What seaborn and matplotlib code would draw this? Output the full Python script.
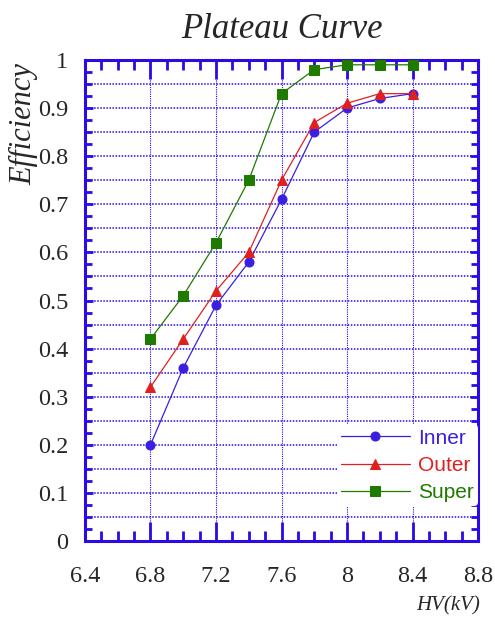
import matplotlib
matplotlib.use("Agg")
import matplotlib.pyplot as plt
import seaborn as sns
import numpy as np
from matplotlib.ticker import MultipleLocator

# ---- data ----
hv = [6.8, 7.0, 7.2, 7.4, 7.6, 7.8, 8.0, 8.2, 8.4]
inner = [0.20, 0.36, 0.49, 0.58, 0.71, 0.85, 0.90, 0.92, 0.93]
outer = [0.32, 0.42, 0.52, 0.60, 0.75, 0.87, 0.91, 0.93, 0.93]
super_ = [0.42, 0.51, 0.62, 0.75, 0.93, 0.98, 0.99, 0.99, 0.99]

series_names = ["Inner", "Outer", "Super"]
series_vals = [inner, outer, super_]
series_colors = ["#3a1fe0", "#e02020", "#1f7a00"]
series_markers = ["o", "^", "s"]

x_ticks = [6.4, 6.8, 7.2, 7.6, 8.0, 8.4, 8.8]
x_ticklabels = ["6.4", "6.8", "7.2", "7.6", "8", "8.4", "8.8"]
y_ticks = [0, 0.1, 0.2, 0.3, 0.4, 0.5, 0.6, 0.7, 0.8, 0.9, 1.0]
y_ticklabels = ["0", "0.1", "0.2", "0.3", "0.4", "0.5", "0.6", "0.7", "0.8", "0.9", "1"]

axis_blue = "#2a0ae6"

sns.set_style("white")
plt.rcParams["font.family"] = ["Liberation Serif", "DejaVu Serif"]

fig = plt.figure(figsize=(4.95, 6.21), dpi=100)
ax = fig.add_axes([0.1717, 0.1288, 0.7940, 0.7746])

for name, vals, col, mk in zip(series_names, series_vals, series_colors, series_markers):
    sns.lineplot(x=hv, y=vals, ax=ax, color=col, marker=mk, markersize=6.5,
                 markeredgecolor=col, linewidth=0.9, label=name, zorder=3)

ax.set_xlim(6.4, 8.8)
ax.set_ylim(0, 1)

# ticks
ax.set_xticks(x_ticks)
ax.set_xticklabels(x_ticklabels)
ax.set_yticks(y_ticks)
ax.set_yticklabels(y_ticklabels)
ax.xaxis.set_minor_locator(MultipleLocator(0.1))
ax.yaxis.set_minor_locator(MultipleLocator(0.025))

ax.tick_params(axis="x", which="major", direction="in", length=14, width=2,
               color=axis_blue, top=True, bottom=True, labelsize=17.5, pad=18)
ax.tick_params(axis="x", which="minor", direction="in", length=7, width=2,
               color=axis_blue, top=True, bottom=True)
ax.tick_params(axis="y", which="major", direction="in", length=6, width=2,
               color=axis_blue, left=True, right=True, labelsize=17.5, pad=12)
ax.tick_params(axis="y", which="minor", direction="in", length=5, width=2,
               color=axis_blue, left=True, right=True)

for sp in ax.spines.values():
    sp.set_color(axis_blue)
    sp.set_linewidth(2.2)

# dotted grid
for yv in np.arange(0.05, 0.99, 0.05):
    ax.axhline(yv, color=axis_blue, linestyle=(0, (1, 1)), linewidth=1.1, zorder=1)
for xv in x_ticks[1:-1]:
    ax.axvline(xv, color=axis_blue, linestyle=(0, (1, 1)), linewidth=0.8, zorder=1)

ax.set_title("Plateau Curve", fontsize=25, style="italic", pad=16)
ax.set_ylabel("Efficiency", fontsize=22, style="italic", loc="top")
ax.yaxis.set_label_coords(-0.118, 0.994)
ax.set_xlabel("HV(kV)", fontsize=15, style="italic", loc="right")
ax.xaxis.set_label_coords(1.005, -0.115)

leg = ax.legend(loc="lower right", bbox_to_anchor=(1.0, 0.072), frameon=True,
                fontsize=15, handlelength=3.3, handletextpad=0.4,
                labelspacing=0.4, borderpad=0.2, borderaxespad=0.0)
leg.get_frame().set_facecolor("white")
leg.get_frame().set_edgecolor("none")
leg.get_frame().set_alpha(1.0)
leg.set_zorder(5)
for txt, col in zip(leg.get_texts(), series_colors):
    txt.set_color(col)
    txt.set_family(["Liberation Sans", "DejaVu Sans"])

fig.savefig("out.png", dpi=100)
